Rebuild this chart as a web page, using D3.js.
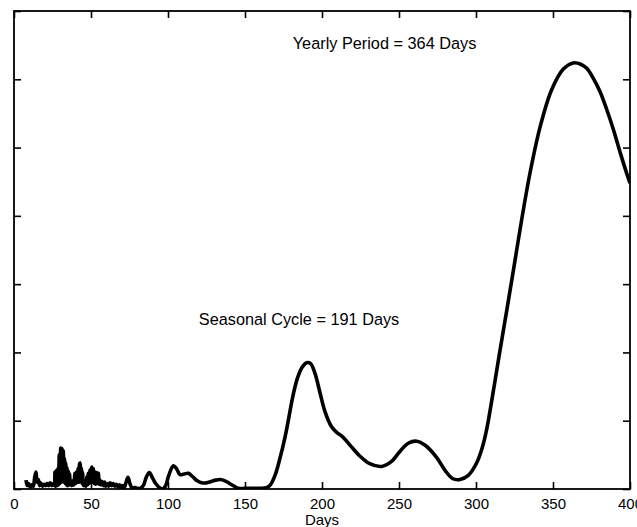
<!DOCTYPE html>
<html>
<head>
<meta charset="utf-8">
<script src="https://cdn.jsdelivr.net/npm/d3@7"></script>
<style>
    body { margin: 0; background: #fff; }
    svg { display: block; }
    text { font-family: "Liberation Sans", Arial, Helvetica, sans-serif; fill: #000; }
</style>
</head>
<body>
<svg id="chart" width="637" height="527"></svg>
<script>
// spectrum (days, power in tick units)
var days = [
    7.8, 8.6, 9.5, 10.5, 11.5, 12.5, 13.5, 14.3, 15, 15.8, 16.6, 17.3, 18.5, 19.5, 20.5, 21.5, 22.5, 23.4, 24.5, 25.5,
    26.2, 26.6, 27, 27.5, 28, 28.5, 28.9, 29.4, 29.8, 30.3, 30.7, 31.2, 31.6, 32, 32.4, 32.8, 33.2, 33.6, 34, 34.4, 34.8, 35.3, 35.7, 36.1, 36.6, 37.4,
    38.2, 38.8, 39.6, 40.1, 40.6, 41.1, 41.6, 42.1, 42.6, 43, 43.4, 43.8, 44.2, 44.6, 45, 45.5,
    46.3, 46.8, 47.2, 47.7, 48.3, 48.8, 49.4, 49.9, 50.5, 51, 51.5, 52, 52.6, 53.1, 53.7, 54.2, 54.8, 55.3, 55.8, 56.5, 57.2, 58, 58.8, 59.6,
    60.6, 61.5, 62.4, 63.4, 64.4, 65.6, 66.6, 67.6, 68.6, 69.6, 70.6, 71.6, 72.5, 74, 75.4, 76.6, 78.6, 80, 82, 84, 86, 87.9,
    90, 92, 94.5, 96.5, 98.5, 100.5, 103.5, 105.5, 107.8, 110.5, 113.2, 116, 119, 121.9, 125, 128, 131, 133.8, 137, 140, 143, 145.6,
    150, 155, 160, 164, 166.5, 169.5, 172.7, 176, 178.5, 181, 184, 187, 190, 192.5, 195.5, 198.7, 202, 206, 209.5, 213.6, 219, 224.7,
    231, 238.7, 245, 250.6, 256, 261.5, 267, 274.5, 280, 285, 289.6, 295, 300.4, 304, 307, 311, 315, 320, 325, 328.6, 335, 341.6,
    349, 356.7, 363.2, 368, 371.9, 376, 380.5, 385, 389, 394, 398.9, 400
];
var power = [
    0.13, 0.05, 0.08, 0.03, 0.06, 0.04, 0.18, 0.25, 0.1, 0.14, 0.05, 0.09, 0.04, 0.07, 0.05, 0.08, 0.05, 0.09, 0.05, 0.08,
    0.05, 0.25, 0.04, 0.27, 0.05, 0.3, 0.06, 0.5, 0.08, 0.6, 0.1, 0.59, 0.12, 0.56, 0.1, 0.45, 0.08, 0.38, 0.06, 0.31, 0.05, 0.26, 0.06, 0.22, 0.08, 0.05,
    0.12, 0.06, 0.23, 0.08, 0.25, 0.1, 0.3, 0.1, 0.37, 0.38, 0.12, 0.3, 0.08, 0.24, 0.06, 0.05,
    0.12, 0.04, 0.18, 0.06, 0.23, 0.08, 0.28, 0.1, 0.32, 0.1, 0.3, 0.08, 0.25, 0.07, 0.24, 0.08, 0.23, 0.07, 0.13, 0.06, 0.11, 0.05, 0.1, 0.04,
    0.08, 0.04, 0.09, 0.05, 0.08, 0.04, 0.07, 0.03, 0.06, 0.02, 0.05, 0.02, 0.08, 0.17, 0.07, 0.02, 0.02, 0.01, 0.01, 0.05, 0.18, 0.24,
    0.16, 0.08, 0.02, 0.0, 0.05, 0.2, 0.34, 0.3, 0.21, 0.22, 0.23, 0.18, 0.12, 0.09, 0.09, 0.11, 0.13, 0.14, 0.12, 0.08, 0.04, 0.01,
    0.01, 0.01, 0.01, 0.02, 0.06, 0.2, 0.45, 0.76, 1.05, 1.35, 1.62, 1.78, 1.85, 1.84, 1.69, 1.41, 1.13, 0.92, 0.83, 0.76, 0.62, 0.48,
    0.37, 0.33, 0.4, 0.55, 0.67, 0.7, 0.64, 0.46, 0.27, 0.15, 0.14, 0.2, 0.38, 0.6, 0.88, 1.4, 1.95, 2.62, 3.3, 3.8, 4.62, 5.3,
    5.84, 6.15, 6.24, 6.22, 6.16, 6.02, 5.82, 5.55, 5.28, 4.9, 4.55, 4.48
];

var xTicks = [0, 50, 100, 150, 200, 250, 300, 350, 400];
var yTicks = [0, 1, 2, 3, 4, 5, 6, 7];
var annotations = [
    { text: "Yearly Period = 364 Days", day: 181, level: 6.44 },
    { text: "Seasonal Cycle = 191 Days", day: 120, level: 2.4 }
];
var xTitle = "Days";

var plotLeft = 14, plotRight = 630, plotTop = 11, plotBottom = 489;

var svg = d3.select("#chart");

var x = d3.scaleLinear().domain([0, 400]).range([plotLeft, plotRight]);
var y = d3.scaleLinear().domain([0, 7]).range([plotBottom, plotTop]);

svg.append("defs").append("clipPath")
    .attr("id", "plotclip")
    .append("rect")
    .attr("x", plotLeft)
    .attr("y", plotTop)
    .attr("width", plotRight - plotLeft)
    .attr("height", plotBottom - plotTop);

var points = days.map(function (d, i) { return [d, power[i]]; });

var line = d3.line()
    .x(function (d) { return x(d[0]); })
    .y(function (d) { return y(d[1]); })
    .curve(d3.curveCatmullRom.alpha(0.5));

svg.append("path")
    .datum(points)
    .attr("clip-path", "url(#plotclip)")
    .attr("d", line)
    .attr("fill", "none")
    .attr("stroke", "#000")
    .attr("stroke-width", 3.6)
    .attr("stroke-linejoin", "round");

// axes with inward ticks, on all four sides
var tickLen = 7;

var bottomAxis = d3.axisBottom(x).tickValues(xTicks).tickSize(-tickLen).tickPadding(tickLen + 2);
var topAxis = d3.axisTop(x).tickValues(xTicks).tickSize(-tickLen).tickFormat("");
var leftAxis = d3.axisLeft(y).tickValues(yTicks).tickSize(-tickLen).tickFormat("");
var rightAxis = d3.axisRight(y).tickValues(yTicks).tickSize(-tickLen).tickFormat("");

function styleAxis(g) {
    g.select(".domain").remove();
    g.selectAll(".tick line").attr("stroke", "#000").attr("stroke-width", 1.6);
}

var gb = svg.append("g").attr("transform", "translate(0," + plotBottom + ")").call(bottomAxis).call(styleAxis);
gb.selectAll(".tick text")
    .attr("font-size", 15)
    .attr("font-family", "Liberation Sans, Arial, sans-serif")
    .attr("fill", "#000");

svg.append("g").attr("transform", "translate(0," + plotTop + ")").call(topAxis).call(styleAxis);
svg.append("g").attr("transform", "translate(" + plotLeft + ",0)").call(leftAxis).call(styleAxis);
svg.append("g").attr("transform", "translate(" + plotRight + ",0)").call(rightAxis).call(styleAxis);

svg.append("rect")
    .attr("x", plotLeft)
    .attr("y", plotTop)
    .attr("width", plotRight - plotLeft)
    .attr("height", plotBottom - plotTop)
    .attr("fill", "none")
    .attr("stroke", "#000")
    .attr("stroke-width", 1.8);

svg.append("text")
    .attr("x", (plotLeft + plotRight) / 2)
    .attr("y", 525)
    .attr("text-anchor", "middle")
    .attr("font-size", 15)
    .text(xTitle);

svg.selectAll(".note")
    .data(annotations)
    .enter()
    .append("text")
    .classed("note", true)
    .attr("x", function (d) { return x(d.day); })
    .attr("y", function (d) { return y(d.level); })
    .attr("font-size", 16.3)
    .text(function (d) { return d.text; });
</script>
</body>
</html>
